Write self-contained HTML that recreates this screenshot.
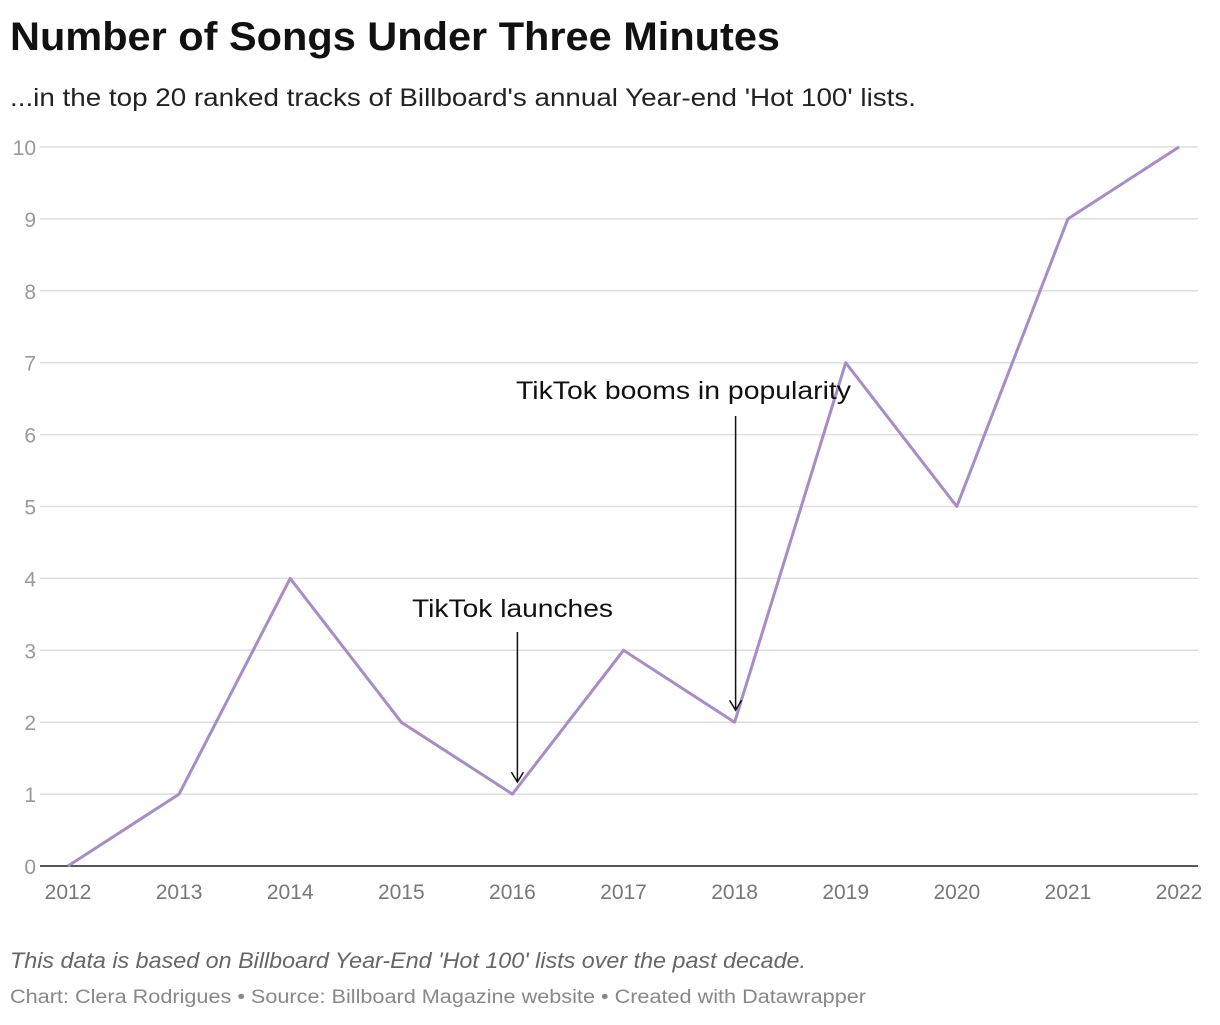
<!DOCTYPE html>
<html><head><meta charset="utf-8"><style>
body{margin:0;background:#fff;width:1220px;height:1020px;overflow:hidden;font-family:"Liberation Sans",sans-serif}
</style></head><body>
<svg width="1220" height="1020">
<text x="10" y="50" font-size="40" font-weight="bold" fill="#111" textLength="770" lengthAdjust="spacingAndGlyphs">Number of Songs Under Three Minutes</text>
<text x="10" y="106" font-size="25" fill="#222" textLength="906" lengthAdjust="spacingAndGlyphs">...in the top 20 ranked tracks of Billboard's annual Year-end 'Hot 100' lists.</text>
<g id="grid"></g><g id="yt"></g><g id="xt"></g>
<line x1="40" x2="1198" y1="866" y2="866" stroke="#222" stroke-width="1.5"/>
<path id="ln" fill="none" stroke="#a98bc9" stroke-width="3" stroke-linejoin="round"/>
<g id="ann"></g>
<text x="10" y="968" font-size="22" font-style="italic" fill="#666" textLength="796" lengthAdjust="spacingAndGlyphs">This data is based on Billboard Year-End 'Hot 100' lists over the past decade.</text>
<text x="10" y="1003" font-size="19" fill="#888" textLength="856" lengthAdjust="spacingAndGlyphs">Chart: Clera Rodrigues • Source: Billboard Magazine website • Created with Datawrapper</text>
</svg>
<script>
const years=[2012,2013,2014,2015,2016,2017,2018,2019,2020,2021,2022];
const values=[0,1,4,2,1,3,2,7,5,9,10];
const yTicks=[0,1,2,3,4,5,6,7,8,9,10];
const annotations=[{year:2016,value:1,label:"TikTok launches"},{year:2018,value:2,label:"TikTok booms in popularity"}];
const x=v=>68+(v-2012)*111.1, y=v=>866-v*71.9;
const ns="http://www.w3.org/2000/svg";
function mk(t,a,p){const e=document.createElementNS(ns,t);for(const k in a)e.setAttribute(k,a[k]);p.appendChild(e);return e;}
const g=document.getElementById('grid'),yt=document.getElementById('yt'),xt=document.getElementById('xt');
yTicks.forEach(v=>{
 if(v>0){const l=mk('line',{x1:40,x2:1198,y1:y(v),y2:y(v),stroke:'#ddd','stroke-width':1.5},g);
 
 }
 const t=mk('text',{x:36,y:y(v)+8,'text-anchor':'end','font-size':21,fill:'#999'},yt);t.textContent=v;
 
 
});
years.forEach(v=>{const t=mk('text',{x:x(v),y:899,'text-anchor':'middle','font-size':21,fill:'#777'},xt);t.textContent=v;
 
 });
document.getElementById('ln').setAttribute('d',values.map((v,i)=>(i?'L':'M')+x(years[i])+','+y(v)).join(''));
const an=document.getElementById('ann');
const cfg=[{tx:412,ty:617,top:632,w:201},{tx:516,ty:399,top:416,w:335}];
annotations.forEach((a,i)=>{
 const c=cfg[i],ax=x(a.year)+(i?1:5),ay=y(a.value)-12;
 const t=mk('text',{x:c.tx,y:c.ty,'font-size':25,fill:'#111',textLength:c.w,lengthAdjust:'spacingAndGlyphs'},an);t.textContent=a.label;
 
 
 const p=mk('path',{d:`M${ax},${c.top}L${ax},${ay}M${ax-6},${ay-10}L${ax},${ay}L${ax+6},${ay-10}`,stroke:'#111','stroke-width':1.5,fill:'none'},an);
 
 
});
</script>
</body></html>
